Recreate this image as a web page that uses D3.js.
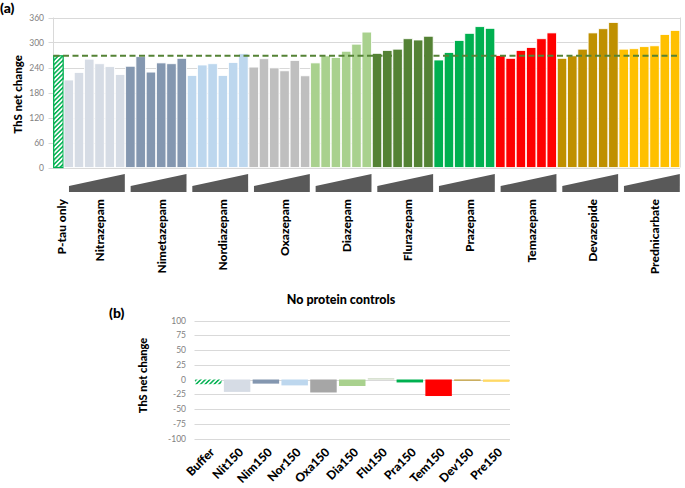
<!DOCTYPE html>
<html>
<head>
<meta charset="utf-8">
<script src="https://cdn.jsdelivr.net/npm/d3@7"></script>
<style>
  html, body { margin: 0; padding: 0; background: #fff; }
  svg { display: block; }
  text { font-family: Lato, "Open Sans", "DejaVu Sans", sans-serif; }
</style>
</head>
<body>
<svg id="chart" width="685" height="488"></svg>
<script>
// ---------- Data (a) ----------
const ptauLabel = "P-tau only";
const ptauValue = 268;
const groupNames = ["Nitrazepam", "Nimetazepam", "Nordiazepam", "Oxazepam", "Diazepam",
                    "Flurazepam", "Prazepam", "Temazepam", "Devazepide", "Prednicarbate"];
const nitrazepam    = [210, 228, 260, 249, 242, 223];
const nimetazepam   = [243, 266, 229, 251, 249, 262];
const nordiazepam   = [221, 246, 249, 221, 252, 273];
const oxazepam      = [241, 261, 239, 232, 257, 220];
const diazepam      = [251, 268, 264, 279, 296, 325];
const flurazepam    = [274, 281, 284, 309, 306, 315];
const prazepam      = [258, 276, 305, 322, 338, 334];
const temazepam     = [269, 262, 281, 288, 309, 323];
const devazepide    = [262, 268, 284, 323, 333, 348];
const prednicarbate = [284, 285, 290, 292, 319, 329];
const groupValues = [nitrazepam, nimetazepam, nordiazepam, oxazepam, diazepam,
                     flurazepam, prazepam, temazepam, devazepide, prednicarbate];
const groupColors = ["#d6dce5", "#8497b0", "#bdd7ee", "#bfbfbf", "#a9d18e",
                     "#548235", "#00b050", "#ff0000", "#bf9000", "#ffc000"];
const yTicksA = [0, 60, 120, 180, 240, 300, 360];

// ---------- Data (b) ----------
const controlLabels = ["Buffer", "Nit150", "Nim150", "Nor150", "Oxa150", "Dia150",
                       "Flu150", "Pra150", "Tem150", "Dev150", "Pre150"];
const controlValues = [-8, -21, -7, -10, -22, -11, 2, -5, -28, -2, -4];
const controlColors = ["hatch", "#d6dce5", "#8497b0", "#bdd7ee", "#a6a6a6", "#a9d18e",
                       "#c8d5be", "#00b050", "#ff0000", "#c49a2a", "#ffd966"];
const yTicksB = [-100, -75, -50, -25, 0, 25, 50, 75, 100];

const svg = d3.select("#chart");
const defs = svg.append("defs");
const pat = defs.append("pattern")
  .attr("id", "hatch").attr("patternUnits", "userSpaceOnUse")
  .attr("width", 3.2).attr("height", 3.2)
  .attr("patternTransform", "rotate(45)");
pat.append("rect").attr("width", 3.2).attr("height", 3.2).attr("fill", "#fff");
pat.append("rect").attr("width", 1.5).attr("height", 3.2).attr("fill", "#00b050");

// ================= Chart (a) =================
const bars = [{ label: ptauLabel, value: ptauValue, color: "url(#hatch)", group: -1 }];
groupValues.forEach((vals, g) => vals.forEach((v, i) =>
  bars.push({ label: groupNames[g] + i, value: v, color: groupColors[g], group: g })));

const xA = d3.scaleBand().domain(d3.range(bars.length)).range([53.5, 680]).paddingInner(0.08).paddingOuter(0.02);
const yA = d3.scaleLinear().domain([0, 360]).range([167.5, 17.5]);

const gA = svg.append("g");
gA.append("g").selectAll("line").data(yTicksA).join("line")
  .attr("x1", 48.5).attr("x2", 680).attr("y1", d => Math.round(yA(d)) + 0.5).attr("y2", d => Math.round(yA(d)) + 0.5)
  .attr("stroke", "#d9d9d9").attr("stroke-width", 1);
gA.append("line").attr("x1", 53.5).attr("x2", 53.5).attr("y1", yA(360)).attr("y2", yA(0)).attr("stroke", "#d9d9d9");
gA.append("line").attr("x1", 680.5).attr("x2", 680.5).attr("y1", yA(360)).attr("y2", yA(0)).attr("stroke", "#d9d9d9");
gA.append("g").selectAll("text").data(yTicksA).join("text")
  .attr("x", 44).attr("y", d => yA(d) + 3).attr("text-anchor", "end")
  .attr("font-size", 8.5).attr("fill", "#7f7f7f").text(d => d);

gA.append("g").selectAll("rect").data(bars).join("rect")
  .attr("x", (d, i) => xA(i)).attr("width", xA.bandwidth())
  .attr("y", d => yA(d.value)).attr("height", d => yA(0) - yA(d.value))
  .attr("fill", d => d.color)
  .attr("stroke", d => d.group < 0 ? "#00b050" : "#ffffff")
  .attr("stroke-width", d => d.group < 0 ? 1.3 : 0.8);

gA.append("line").attr("x1", 53.5).attr("x2", 680).attr("y1", yA(ptauValue)).attr("y2", yA(ptauValue))
  .attr("stroke", "#548235").attr("stroke-width", 2).attr("stroke-dasharray", "6,3.5");

svg.append("text").attr("transform", `translate(22,${yA(180) + 2}) rotate(-90)`)
  .attr("text-anchor", "middle").attr("font-size", 11.5).attr("font-weight", 900).attr("fill", "#000")
  .text("ThS net change");
svg.append("text").attr("x", 0).attr("y", 13).attr("font-size", 14).attr("font-weight", 900).text("(a)");

groupNames.forEach((name, g) => {
  const first = 1 + g * 6, last = first + 5;
  const x0 = xA(first) + 5, x1 = xA(last) + xA.bandwidth();
  gA.append("path")
    .attr("d", `M${x0},192 L${x0},186 L${x1},174 L${x1},192 Z`)
    .attr("fill", "#595959");
  const cx = (xA(first) + xA(last) + xA.bandwidth()) / 2;
  gA.append("text").attr("transform", `translate(${cx + 9.5},199) rotate(-90)`)
    .attr("text-anchor", "end").attr("font-size", 12).attr("font-weight", 900).text(name);
});
gA.append("text").attr("transform", `translate(${xA(0) + xA.bandwidth() / 2 + 7.5},199) rotate(-90)`)
  .attr("text-anchor", "end").attr("font-size", 12).attr("font-weight", 900).text(ptauLabel);

// ================= Chart (b) =================
const xB = d3.scaleBand().domain(controlLabels).range([194.5, 510]).paddingInner(0.08).paddingOuter(0.02);
const yB = d3.scaleLinear().domain([-100, 100]).range([438.5, 320.5]);
const gB = svg.append("g");
gB.append("g").selectAll("line").data(yTicksB).join("line")
  .attr("x1", 194.5).attr("x2", 510).attr("y1", d => Math.round(yB(d)) + 0.5).attr("y2", d => Math.round(yB(d)) + 0.5)
  .attr("stroke", "#d9d9d9");
gB.append("g").selectAll("text").data(yTicksB).join("text")
  .attr("x", 186).attr("y", d => yB(d) + 3).attr("text-anchor", "end")
  .attr("font-size", 8.5).attr("fill", "#7f7f7f").text(d => d);
gB.append("g").selectAll("rect").data(controlLabels).join("rect")
  .attr("x", d => xB(d)).attr("width", xB.bandwidth())
  .attr("y", (d, i) => yB(Math.max(0, controlValues[i])))
  .attr("height", (d, i) => Math.abs(yB(controlValues[i]) - yB(0)))
  .attr("fill", (d, i) => controlColors[i] === "hatch" ? "url(#hatch)" : controlColors[i]);
gB.append("g").selectAll("text").data(controlLabels).join("text")
  .attr("transform", d => `translate(${xB(d) + xB.bandwidth() / 2 + 7},453) rotate(-45)`)
  .attr("text-anchor", "end").attr("font-size", 12).attr("font-weight", 900).text(d => d);

svg.append("text").attr("x", 341).attr("y", 304).attr("text-anchor", "middle")
  .attr("font-size", 12.5).attr("font-weight", 900).text("No protein controls");
svg.append("text").attr("x", 109).attr("y", 318).attr("font-size", 14).attr("font-weight", 900).text("(b)");
svg.append("text").attr("transform", `translate(147,${yB(0) - 4}) rotate(-90)`)
  .attr("text-anchor", "middle").attr("font-size", 11).attr("font-weight", 900).text("ThS net change");
</script>
</body>
</html>
